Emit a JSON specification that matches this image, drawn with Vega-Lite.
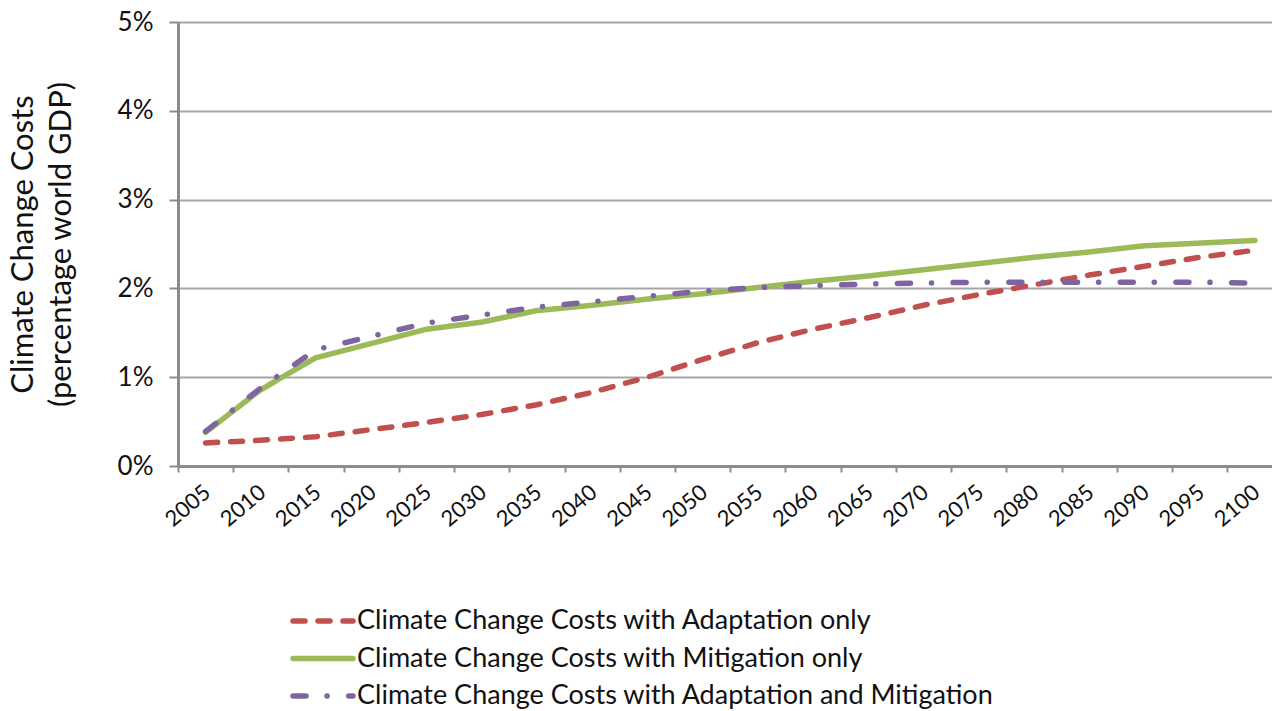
{
  "$schema": "https://vega.github.io/schema/vega-lite/v6.json",
  "width": 1094,
  "height": 444,
  "autosize": {"type": "none"},
  "padding": {"left": 178, "top": 22, "right": 0, "bottom": 245},
  "background": "white",
  "config": {"view": {"stroke": null}, "font": "Lato"},
  "data": {"values": [
    {"year": 2005, "Adaptation": 0.0026, "Mitigation": 0.0038, "Both": 0.0039},
    {"year": 2010, "Adaptation": 0.0029, "Mitigation": 0.0086, "Both": 0.0088},
    {"year": 2015, "Adaptation": 0.0033, "Mitigation": 0.0122, "Both": 0.0131},
    {"year": 2020, "Adaptation": 0.0041, "Mitigation": 0.0138, "Both": 0.0146},
    {"year": 2025, "Adaptation": 0.0049, "Mitigation": 0.0154, "Both": 0.0161},
    {"year": 2030, "Adaptation": 0.0058, "Mitigation": 0.0162, "Both": 0.0170},
    {"year": 2035, "Adaptation": 0.0069, "Mitigation": 0.0175, "Both": 0.0179},
    {"year": 2040, "Adaptation": 0.0083, "Mitigation": 0.0181, "Both": 0.0185},
    {"year": 2045, "Adaptation": 0.0100, "Mitigation": 0.0188, "Both": 0.0191},
    {"year": 2050, "Adaptation": 0.0120, "Mitigation": 0.0194, "Both": 0.0197},
    {"year": 2055, "Adaptation": 0.0139, "Mitigation": 0.0201, "Both": 0.0201},
    {"year": 2060, "Adaptation": 0.0154, "Mitigation": 0.0208, "Both": 0.0203},
    {"year": 2065, "Adaptation": 0.0167, "Mitigation": 0.0214, "Both": 0.0205},
    {"year": 2070, "Adaptation": 0.0181, "Mitigation": 0.0221, "Both": 0.0206},
    {"year": 2075, "Adaptation": 0.0193, "Mitigation": 0.0228, "Both": 0.0207},
    {"year": 2080, "Adaptation": 0.0204, "Mitigation": 0.0235, "Both": 0.0207},
    {"year": 2085, "Adaptation": 0.0215, "Mitigation": 0.0241, "Both": 0.0207},
    {"year": 2090, "Adaptation": 0.0225, "Mitigation": 0.0248, "Both": 0.0207},
    {"year": 2095, "Adaptation": 0.0235, "Mitigation": 0.0251, "Both": 0.0207},
    {"year": 2100, "Adaptation": 0.0243, "Mitigation": 0.0254, "Both": 0.0206}
  ]},
  "transform": [
    {"fold": ["Adaptation", "Mitigation", "Both"], "as": ["key", "value"]},
    {"lookup": "key", "from": {"data": {"values": [
      {"key": "Adaptation", "series": "Climate Change Costs with Adaptation only"},
      {"key": "Mitigation", "series": "Climate Change Costs with Mitigation only"},
      {"key": "Both", "series": "Climate Change Costs with Adaptation and Mitigation"}
    ]}, "key": "key", "fields": ["series"]}}
  ],
  "mark": {"type": "line", "strokeWidth": 5.5, "strokeCap": "round", "strokeJoin": "round"},
  "encoding": {
    "x": {
      "field": "year", "type": "quantitative",
      "scale": {"domain": [2002.5, 2101.55], "nice": false, "zero": false},
      "axis": {
        "values": [2005, 2010, 2015, 2020, 2025, 2030, 2035, 2040, 2045, 2050, 2055, 2060, 2065, 2070, 2075, 2080, 2085, 2090, 2095, 2100],
        "format": "d", "title": null, "grid": false,
        "labelAngle": -40, "labelAlign": "right", "labelBaseline": "middle",
        "labelFontSize": 22, "labelColor": "#111", "labelPadding": 17,
        "labelOverlap": false, "labelFlush": false, "labelBound": false,
        "tickOffset": -27.6, "labelOffset": 29,
        "tickSize": 6, "tickWidth": 2, "tickColor": "#8c8c8c",
        "domainColor": "#8c8c8c", "domainWidth": 3
      }
    },
    "y": {
      "field": "value", "type": "quantitative",
      "scale": {"domain": [0, 0.05], "nice": false},
      "axis": {
        "values": [0, 0.01, 0.02, 0.03, 0.04, 0.05],
        "format": ".0%",
        "title": ["Climate Change Costs", "(percentage world GDP)"],
        "titleFontSize": 31, "titleFontWeight": "normal", "titleColor": "#111",
        "titleLineHeight": 38, "titlePadding": 40,
        "labelFontSize": 26, "labelColor": "#111", "labelPadding": 16,
        "tickSize": 9, "tickWidth": 2, "tickColor": "#8c8c8c",
        "domainColor": "#8c8c8c", "domainWidth": 3,
        "gridColor": "#a6a6a6", "gridWidth": 2
      }
    },
    "color": {
      "field": "series", "type": "nominal",
      "scale": {
        "domain": ["Climate Change Costs with Adaptation only", "Climate Change Costs with Mitigation only", "Climate Change Costs with Adaptation and Mitigation"],
        "range": ["#C0504D", "#9BBB59", "#8064A2"]
      },
      "legend": {
        "title": null, "orient": "none", "legendX": 127, "legendY": 581,
        "direction": "vertical", "symbolType": "M-2,0L2,0", "symbolSize": 900,
        "symbolStrokeWidth": 5.5, "symbolFillColor": "transparent", "labelFontSize": 27, "labelColor": "#111",
        "labelOffset": 16, "rowPadding": 6.5, "padding": 0, "labelLimit": 0,
        "encode": {"symbols": {"update": {"strokeCap": {"value": "round"}}}}
      }
    },
    "strokeDash": {
      "field": "series", "type": "nominal",
      "scale": {
        "domain": ["Climate Change Costs with Adaptation only", "Climate Change Costs with Mitigation only", "Climate Change Costs with Adaptation and Mitigation"],
        "range": [[12, 13], [1, 0], [13, 21, 0.1, 21.6]]
      },
      "legend": {
        "title": null, "orient": "none", "legendX": 127, "legendY": 581,
        "direction": "vertical", "symbolType": "M-2,0L2,0", "symbolSize": 900,
        "symbolStrokeWidth": 5.5, "symbolFillColor": "transparent", "labelFontSize": 27, "labelColor": "#111",
        "labelOffset": 16, "rowPadding": 6.5, "padding": 0, "labelLimit": 0,
        "encode": {"symbols": {"update": {"strokeCap": {"value": "round"}}}}
      }
    }
  }
}
